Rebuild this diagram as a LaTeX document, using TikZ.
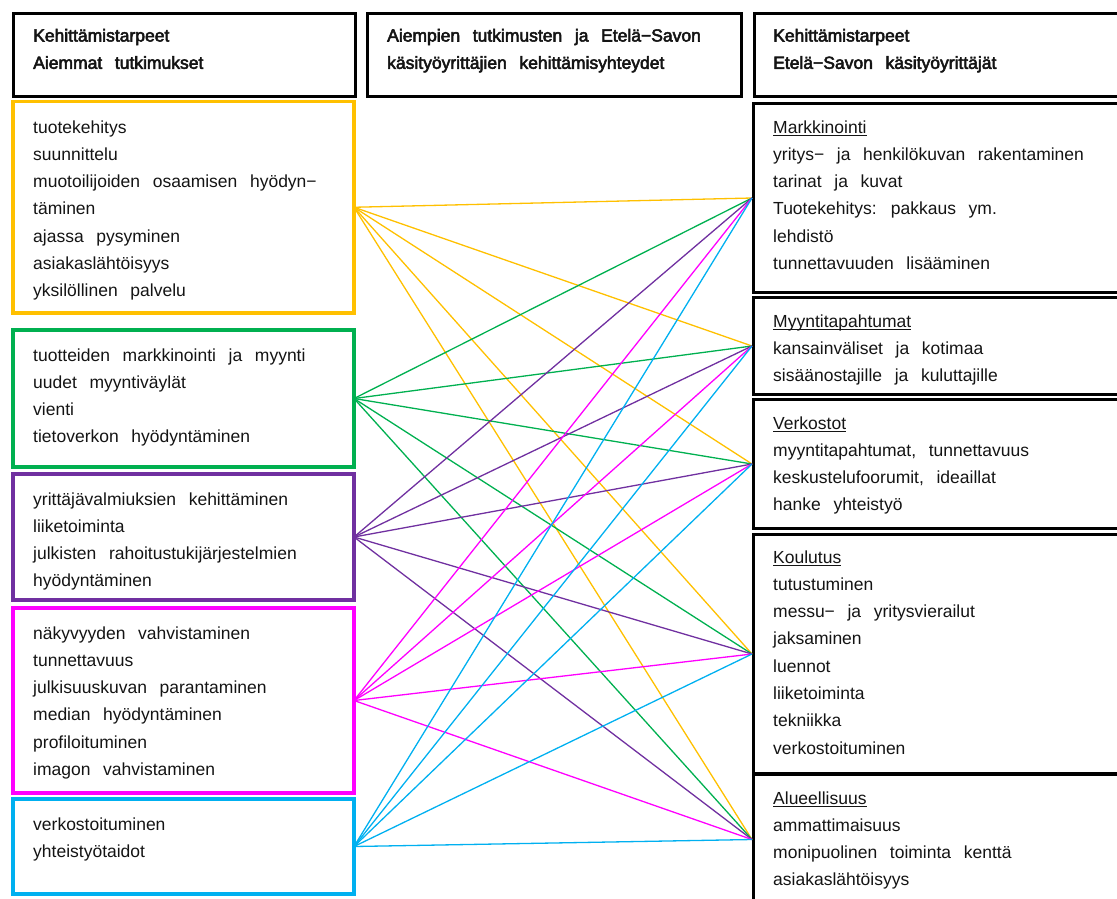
\documentclass[tikz,border=0pt]{standalone}
\usepackage{fontspec}
\setmainfont[WordSpace=2.6]{Liberation Sans}
\newfontfamily\hdfont[WordSpace=2.6,FakeBold=3]{Liberation Sans}
\newcommand\Lines[1]{\vtop{\baselineskip=27.3pt\lineskiplimit=-100pt\lineskip=0pt\halign{##\hfil\cr#1\crcr}}}
\newcommand\ul[1]{\setbox0\hbox{#1}\rlap{\rule[-2.4pt]{\wd0}{0.9pt}}\box0}
\definecolor{colY}{HTML}{FFC000}
\definecolor{colG}{HTML}{00B050}
\definecolor{colP}{HTML}{7030A0}
\definecolor{colM}{HTML}{FF00FF}
\definecolor{colC}{HTML}{00B0F0}
\definecolor{txt}{HTML}{141414}
\tikzset{
  hdbox/.style={draw=black, line width=2.6pt, inner sep=0pt, anchor=north west},
  lbox/.style={line width=3.3pt, inner sep=0pt, outer sep=0pt, anchor=north west, minimum width=341pt},
  rbox/.style={draw=black, line width=3pt, inner sep=0pt, anchor=north west, minimum width=400pt},
  txtnode/.style={anchor=base west, inner sep=0pt, text=txt, font=\fontsize{17.5}{27.3}\selectfont},
  hdtxt/.style={txtnode, font=\fontsize{17.5}{27.3}\selectfont\hdfont},
  conn/.style={line width=1.3pt}
}
\begin{document}
\begin{tikzpicture}[x=1pt,y=-1pt]
\useasboundingbox (0,0) rectangle (1117,898);
% header boxes
\node[hdbox, minimum width=342pt, minimum height=83pt] (h1) at (12,12) {};
\node[hdbox, minimum width=374pt, minimum height=83pt] (h2) at (366,12) {};
\node[hdbox, minimum width=400pt, minimum height=83pt] (h3) at (753,12) {};
\node[hdtxt] (h1t) at (33,41.5) {\Lines{Kehittämistarpeet\cr Aiemmat tutkimukset}};
\node[hdtxt] (h2t) at (387,41.5) {\Lines{Aiempien tutkimusten ja Etelä−Savon\cr käsityöyrittäjien kehittämisyhteydet}};
\node[hdtxt] (h3t) at (773,41.5) {\Lines{Kehittämistarpeet\cr Etelä−Savon käsityöyrittäjät}};
% left boxes
\node[lbox, draw=colY, minimum height=211.5pt] (ly) at (13,101.5) {};
\node[lbox, draw=colG, minimum height=137pt] (lg) at (13,330) {};
\node[lbox, draw=colP, minimum height=126pt] (lp) at (13,474) {};
\node[lbox, draw=colM, minimum height=185pt] (lm) at (13,608) {};
\node[lbox, draw=colC, minimum height=95pt] (lc) at (13,799) {};
\node[txtnode] (lyt) at (33,133) {\Lines{tuotekehitys\cr suunnittelu\cr muotoilijoiden osaamisen hyödyn−\cr täminen\cr ajassa pysyminen\cr asiakaslähtöisyys\cr yksilöllinen palvelu}};
\node[txtnode] (lgt) at (33,361) {\Lines{tuotteiden markkinointi ja myynti\cr uudet myyntiväylät\cr vienti\cr tietoverkon hyödyntäminen}};
\node[txtnode] (lpt) at (33,505) {\Lines{yrittäjävalmiuksien kehittäminen\cr liiketoiminta\cr julkisten rahoitustukijärjestelmien\cr hyödyntäminen}};
\node[txtnode] (lmt) at (33,639) {\Lines{näkyvyyden vahvistaminen\cr tunnettavuus\cr julkisuuskuvan parantaminen\cr median hyödyntäminen\cr profiloituminen\cr imagon vahvistaminen}};
\node[txtnode] (lct) at (33,830) {\Lines{verkostoituminen\cr yhteistyötaidot}};
% right boxes
\node[rbox, minimum height=189pt] (r1) at (752,102) {};
\node[rbox, minimum height=97pt] (r2) at (752,296) {};
\node[rbox, minimum height=129pt] (r3) at (752,398) {};
\node[rbox, minimum height=239pt] (r4) at (752,533) {};
\node[rbox, minimum height=130pt] (r5) at (752,773) {};
\node[txtnode] (r1t) at (773,133) {\Lines{\ul{Markkinointi}\cr yritys− ja henkilökuvan rakentaminen\cr tarinat ja kuvat\cr Tuotekehitys: pakkaus ym.\cr lehdistö\cr tunnettavuuden lisääminen}};
\node[txtnode] (r2t) at (773,327) {\Lines{\ul{Myyntitapahtumat}\cr kansainväliset ja kotimaa\cr sisäänostajille ja kuluttajille}};
\node[txtnode] (r3t) at (773,429) {\Lines{\ul{Verkostot}\cr myyntitapahtumat, tunnettavuus\cr keskustelufoorumit, ideaillat\cr hanke yhteistyö}};
\node[txtnode] (r4t) at (773,563) {\Lines{\ul{Koulutus}\cr tutustuminen\cr messu− ja yritysvierailut\cr jaksaminen\cr luennot\cr liiketoiminta\cr tekniikka\cr verkostoituminen}};
\node[txtnode] (r5t) at (773,804) {\Lines{\ul{Alueellisuus}\cr ammattimaisuus\cr monipuolinen toiminta kenttä\cr asiakaslähtöisyys}};
% connectors
\foreach \l/\c in {ly/colY, lg/colG, lp/colP, lm/colM, lc/colC}{
  \foreach \r in {r1,r2,r3,r4,r5}{
    \draw[conn, draw=\c] (\l.east) -- (\r.west);
  }
}
\end{tikzpicture}
\end{document}
